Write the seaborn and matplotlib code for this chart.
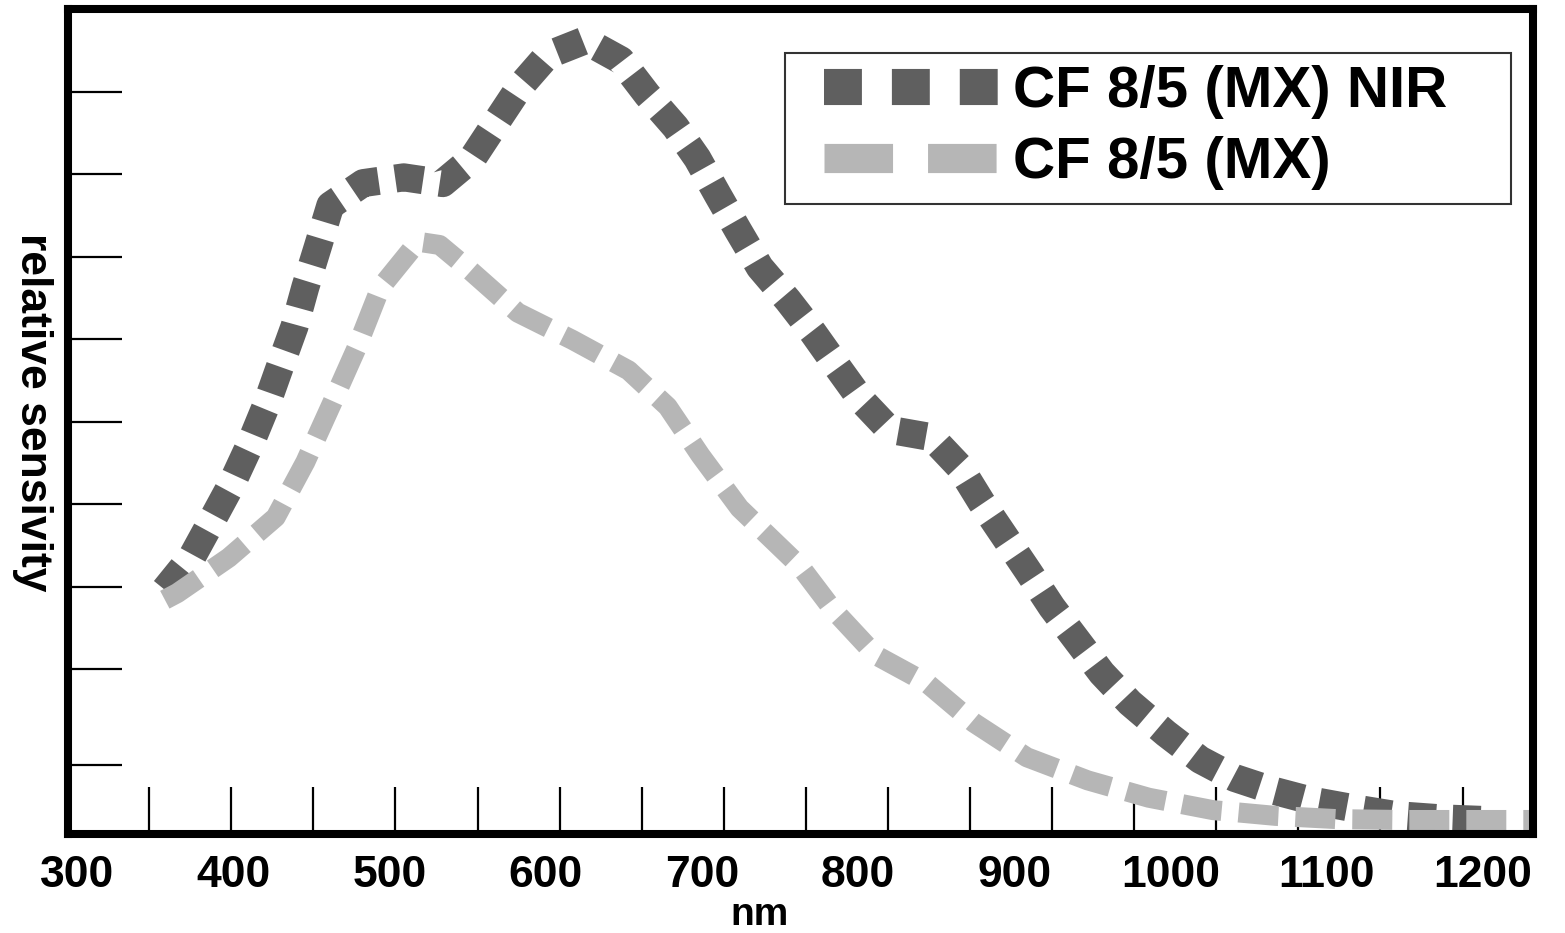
import numpy as np
import pandas as pd
import matplotlib
matplotlib.use("Agg")
import matplotlib.pyplot as plt
import seaborn as sns
from matplotlib.patches import Rectangle

# ---------------- data ----------------
series_names = ["CF 8/5 (MX) NIR", "CF 8/5 (MX)"]

wl_nir = [356, 374, 387, 399, 411, 421, 430, 439, 446, 454, 462, 483, 509, 534,
          553, 569, 583, 601, 625, 648, 665, 683, 697, 710, 723, 737, 755, 771,
          786, 802, 820, 847, 865, 879, 894, 909, 924, 940, 956, 974, 997, 1019,
          1041, 1065, 1089, 1115, 1144, 1173, 1201]
sens_nir = [0.296, 0.338, 0.383, 0.425, 0.474, 0.520, 0.568, 0.615, 0.663, 0.712,
            0.762, 0.789, 0.796, 0.789, 0.819, 0.865, 0.905, 0.944, 0.962, 0.938,
            0.896, 0.857, 0.819, 0.775, 0.732, 0.687, 0.647, 0.608, 0.568, 0.526,
            0.490, 0.481, 0.445, 0.402, 0.360, 0.318, 0.275, 0.235, 0.195, 0.159,
            0.122, 0.090, 0.068, 0.053, 0.041, 0.032, 0.023, 0.019, 0.017]

wl_mx = [356, 364, 397, 427, 446, 463, 479, 494, 518, 532, 551, 582, 617, 653,
         678, 699, 724, 763, 783, 811, 844, 874, 908, 947, 986, 1027, 1067, 1107,
         1149, 1186, 1232]
sens_mx = [0.284, 0.292, 0.335, 0.384, 0.451, 0.522, 0.590, 0.662, 0.718, 0.714,
           0.684, 0.632, 0.599, 0.562, 0.518, 0.459, 0.395, 0.324, 0.274, 0.217,
           0.183, 0.135, 0.093, 0.065, 0.044, 0.029, 0.022, 0.018, 0.017, 0.017,
           0.017]

x_tick_values = [300, 400, 500, 600, 700, 800, 900, 1000, 1100, 1200]
x_tick_labels = ["300", "400", "500", "600", "700", "800", "900", "1000", "1100", "1200"]
y_tick_values = [0.084, 0.2, 0.3, 0.4, 0.5, 0.6, 0.7, 0.8, 0.9]

# ---------------- style ----------------
sns.set_style("white")
plt.rcParams["font.family"] = ["Liberation Sans", "DejaVu Sans"]
plt.rcParams["font.weight"] = "bold"
plt.rcParams["text.color"] = "black"
plt.rcParams["axes.labelcolor"] = "black"
plt.rcParams["xtick.labelcolor"] = "black"
plt.rcParams["xtick.color"] = "black"
plt.rcParams["ytick.color"] = "black"

dark = "#5f5f5f"
light = "#b6b6b6"

fig = plt.figure(figsize=(15.65, 9.33), dpi=100)
ax = fig.add_axes([0.04345, 0.1061, 0.9361, 0.8842])

sns.lineplot(x=wl_nir, y=sens_nir, ax=ax, color=dark, linewidth=20.2,
             linestyle=(0, (1.0, 0.6)), errorbar=None, legend=False)
sns.lineplot(x=wl_mx, y=sens_mx, ax=ax, color=light, linewidth=14.4,
             linestyle=(0, (2.0, 0.85)), errorbar=None, legend=False)

ax.set_xlim(294.0, 1232.1)
ax.set_ylim(0, 1)

# spines
for s in ax.spines.values():
    s.set_visible(True)
    s.set_linewidth(5.8)
    s.set_color("black")
    s.set_capstyle("projecting")

# ticks
ax.set_xticks(x_tick_values, x_tick_labels)
ax.set_xticks(np.linspace(346, 1187, 17), minor=True)
ax.set_yticks(y_tick_values)
ax.tick_params(axis="x", which="major", length=0, pad=14.8, labelsize=32,
               bottom=True, labelbottom=True, labelcolor="black")
ax.tick_params(axis="x", which="minor", direction="in", length=34, width=1.6,
               color="black", bottom=True)
ax.tick_params(axis="y", which="major", direction="in", length=39, width=1.6,
               color="black", left=True, labelleft=False)
for lab in ax.get_xticklabels():
    lab.set_fontweight("bold")
    lab.set_color("black")

ax.set_xlabel("nm", fontsize=28, fontweight="bold", color="black",
              family=["Liberation Sans Narrow", "Liberation Sans"], va="center")
ax.xaxis.set_label_coords(0.4717, -0.0982)
ax.set_ylabel("relative sensivity", fontsize=32, fontweight="bold", color="black",
              rotation=270, va="center", ha="center")
ax.yaxis.set_label_coords(-0.0239, 0.5115)

# legend
handles = ax.get_lines()[:2]
leg = ax.legend(handles, series_names, loc="upper left",
                bbox_to_anchor=(0.516, 0.9321), frameon=False,
                prop={"size": 42, "weight": "bold"}, borderpad=0,
                borderaxespad=0, handlelength=3.04, handletextpad=0.2,
                labelspacing=0.29)
for t in leg.get_texts():
    t.set_color("black")
leg_lines = leg.get_lines()
leg_lines[0].set_linewidth(26)
leg_lines[0].set_dashes((1.05, 0.83))
leg_lines[1].set_linewidth(21)
leg_lines[1].set_dashes((2.35, 1.2))

ax.add_patch(Rectangle((0.4894, 0.7636), 0.4956, 0.1831, transform=ax.transAxes,
                       fill=False, linewidth=1.5, edgecolor="#333333", zorder=5))

fig.savefig("out.png", dpi=100, facecolor="white")
